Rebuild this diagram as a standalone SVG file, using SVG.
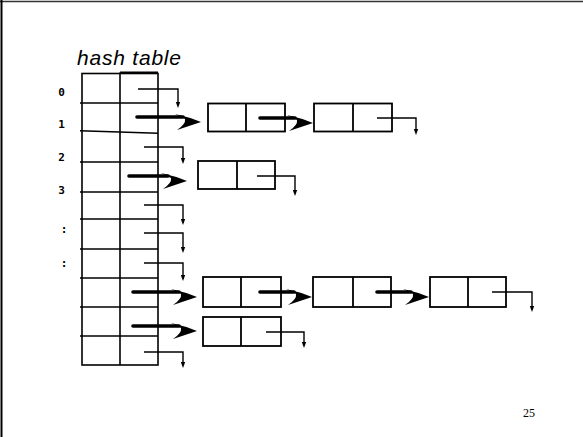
<svg xmlns="http://www.w3.org/2000/svg" xmlns:xlink="http://www.w3.org/1999/xlink" width="583" height="437" viewBox="0 0 583 437">
<style>
.grid{fill:none;stroke:#000;stroke-width:1.6}
.box{fill:#fff;stroke:#000;stroke-width:1.8}
.thin{fill:none;stroke:#000;stroke-width:1.4}
.thick{fill:none;stroke:#000;stroke-width:3.6;stroke-linecap:round}
.idx{font-family:"DejaVu Sans Mono","Liberation Mono",monospace;font-weight:bold;font-size:11px;text-anchor:middle}
</style>
<defs>
<path id="head" d="M-26,-8 Q-12,-5 0,0 L-24,8 Q-15,2 -16,-3 Z" fill="#000"/>
<path id="tip" d="M-2.2,-6 L2.2,-6 L0,0 Z" fill="#000"/>
</defs>
<rect width="583" height="437" fill="#fff"/>
<line x1="0" y1="1.5" x2="583" y2="1.5" stroke="#333" stroke-width="1.5"/>
<line x1="1.5" y1="0" x2="1.5" y2="437" stroke="#000" stroke-width="2"/>
<text x="77" y="65" font-family="Liberation Sans, Arial, sans-serif" font-style="italic" font-size="21" textLength="104">hash table</text>
<g id="table">
<rect class="grid" x="82" y="73.5" width="76" height="291.5"/>
<line class="grid" x1="120" y1="72.5" x2="120" y2="365"/>
<line x1="120" y1="72.5" x2="158" y2="72.5" stroke="#000" stroke-width="2.2"/>
<line class="grid" x1="80" y1="103" x2="158" y2="103"/>
<line class="grid" x1="80" y1="130.7" x2="158" y2="133.3"/>
<line class="grid" x1="80" y1="162" x2="158" y2="162"/>
<line class="grid" x1="80" y1="192" x2="158" y2="192"/>
<line class="grid" x1="80" y1="219" x2="158" y2="219"/>
<line class="grid" x1="80" y1="249" x2="158" y2="249"/>
<line class="grid" x1="80" y1="278" x2="158" y2="278"/>
<line class="grid" x1="80" y1="307" x2="158" y2="307"/>
<line class="grid" x1="80" y1="336" x2="158" y2="336"/>
</g>
<g id="labels">
<text class="idx" x="61.5" y="95.5">0</text>
<text class="idx" x="61.5" y="127.5">1</text>
<text class="idx" x="61.5" y="161">2</text>
<text class="idx" x="61.5" y="194">3</text>
<text class="idx" x="64" y="233">:</text>
<text class="idx" x="64" y="267">:</text>
</g>
<g id="n1a"><rect class="box" x="208" y="103.5" width="77" height="28"/><line class="box" x1="246" y1="103.5" x2="246" y2="131.5"/></g>
<g id="n1b"><rect class="box" x="314" y="103.5" width="78" height="28"/><line class="box" x1="353" y1="103.5" x2="353" y2="131.5"/></g>
<g id="n3"><rect class="box" x="198" y="161" width="77" height="28"/><line class="box" x1="237" y1="161" x2="237" y2="189"/></g>
<g id="n7a"><rect class="box" x="203" y="277" width="78" height="30"/><line class="box" x1="241" y1="277" x2="241" y2="307"/></g>
<g id="n7b"><rect class="box" x="313" y="277" width="78" height="30"/><line class="box" x1="353" y1="277" x2="353" y2="307"/></g>
<g id="n7c"><rect class="box" x="430" y="277" width="76" height="30"/><line class="box" x1="468" y1="277" x2="468" y2="307"/></g>
<g id="n8"><rect class="box" x="203" y="317" width="78" height="29"/><line class="box" x1="241" y1="317" x2="241" y2="346"/></g>
<g id="connectors">
<polyline class="thin" points="138,89 178,89 178,103"/><use xlink:href="#tip" x="178" y="108"/>
<polyline class="thin" points="377,118 416,118 416,130"/><use xlink:href="#tip" x="416" y="135"/>
<polyline class="thin" points="144,147 183,147 183,159"/><use xlink:href="#tip" x="183" y="164"/>
<polyline class="thin" points="257,176 295,176 295,191"/><use xlink:href="#tip" x="295" y="196"/>
<polyline class="thin" points="144,205 183,205 183,220"/><use xlink:href="#tip" x="183" y="225"/>
<polyline class="thin" points="144,233 183,233 183,248"/><use xlink:href="#tip" x="183" y="253"/>
<polyline class="thin" points="144,263 183,263 183,276"/><use xlink:href="#tip" x="183" y="281"/>
<polyline class="thin" points="492,292 532,292 532,307"/><use xlink:href="#tip" x="532" y="312"/>
<polyline class="thin" points="266,332 304,332 304,343"/><use xlink:href="#tip" x="304" y="348"/>
<polyline class="thin" points="144,352 183,352 183,363"/><use xlink:href="#tip" x="183" y="368"/>
<line class="thick" x1="137" y1="117" x2="183" y2="117"/><use xlink:href="#head" x="201" y="122"/>
<line class="thick" x1="260" y1="118" x2="295" y2="118"/><use xlink:href="#head" x="313" y="123"/>
<line class="thick" x1="129" y1="176" x2="168" y2="176"/><use xlink:href="#head" x="187" y="181"/>
<line class="thick" x1="133" y1="292" x2="179" y2="292"/><use xlink:href="#head" x="197" y="297"/>
<line class="thick" x1="260" y1="292" x2="294" y2="292"/><use xlink:href="#head" x="312" y="297"/>
<line class="thick" x1="377" y1="292" x2="411" y2="292"/><use xlink:href="#head" x="429" y="297"/>
<line class="thick" x1="133" y1="326" x2="179" y2="326"/><use xlink:href="#head" x="197" y="331"/>
</g>
<text x="523" y="417" font-family="Liberation Serif, Times New Roman, serif" font-size="12">25</text>
</svg>
